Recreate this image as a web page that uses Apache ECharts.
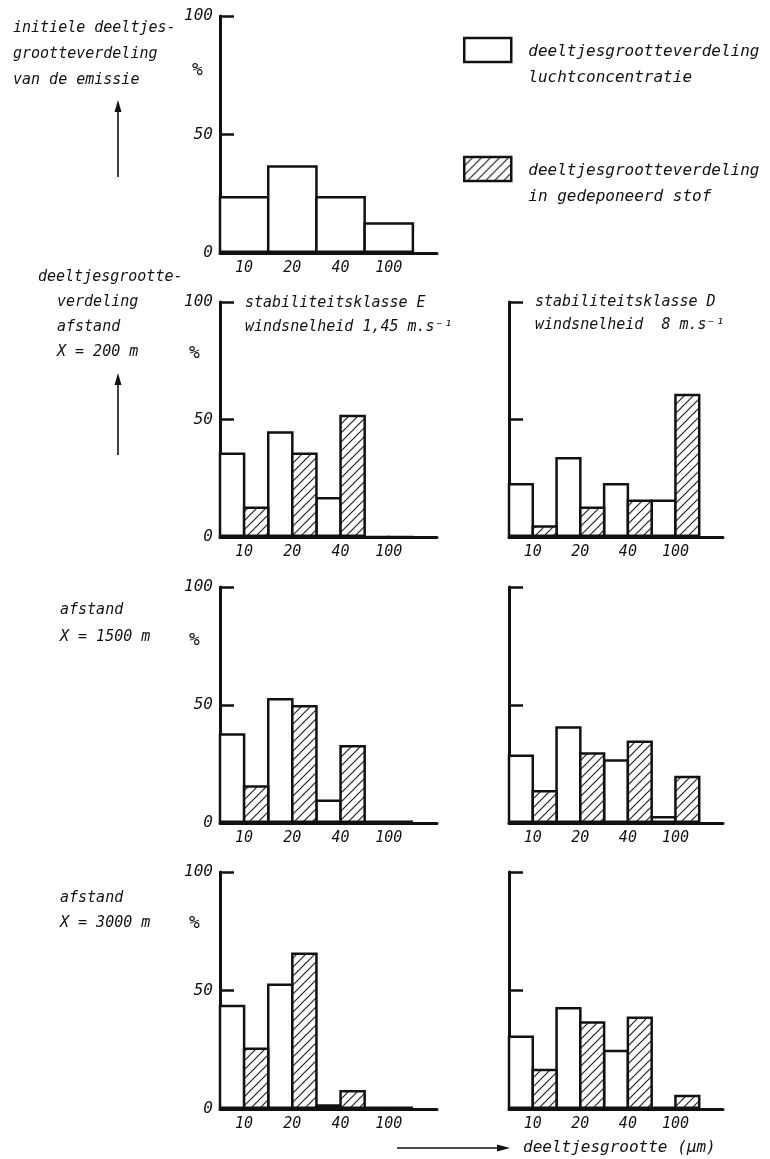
<!DOCTYPE html>
<html><head><meta charset="utf-8">
<script src="https://cdn.jsdelivr.net/npm/echarts@6/dist/echarts.min.js"></script>
<style>html,body{margin:0;padding:0;background:#fff}#c{width:770px;height:1159px}</style>
</head><body><div id="c"></div>
<script>
// ---- data (percent per particle-size class) ----
const sizeLabels = ['10', '20', '40', '100'];
const initialEmission = [24, 37, 24, 13];
const air200E = [36, 45, 17, 0];
const dep200E = [13, 36, 52, 0];
const air200D = [23, 34, 23, 16];
const dep200D = [5, 13, 16, 61];
const air1500E = [38, 53, 10, 1];
const dep1500E = [16, 50, 33, 1];
const air1500D = [29, 41, 27, 3];
const dep1500D = [14, 30, 35, 20];
const air3000E = [44, 53, 2, 1];
const dep3000E = [26, 66, 8, 1];
const air3000D = [31, 43, 25, 1];
const dep3000D = [17, 37, 39, 6];
const yTicks = [0, 50, 100];
const seriesNames = ['luchtconcentratie', 'gedeponeerd stof'];
const legendLines = {
  'luchtconcentratie': ['deeltjesgrootteverdeling', 'luchtconcentratie'],
  'gedeponeerd stof': ['deeltjesgrootteverdeling', 'in gedeponeerd stof']
};

// ---- styling / layout ----
const FONT = 'DejaVu Sans Mono';
const INK = '#111';
const BW = 2.5;
function makeHatch() {
  const n = 9;
  const c = document.createElement('canvas'); c.width = n; c.height = n;
  const g = c.getContext('2d');
  g.fillStyle = '#fff'; g.fillRect(0, 0, n, n);
  g.strokeStyle = '#222'; g.lineWidth = 1.2;
  g.beginPath();
  g.moveTo(0, n); g.lineTo(n, 0);
  g.moveTo(-1, 1); g.lineTo(1, -1);
  g.moveTo(n - 1, n + 1); g.lineTo(n + 1, n - 1);
  g.stroke();
  return c;
}
const hatchFill = { image: makeHatch(), repeat: 'repeat' };

const rowTop = [16, 302, 587, 872];
const rowBottom = [253, 537, 823, 1109];
const colLeft = [220, 509];
const colWidth = [217, 214];
const xMax = 4.5;

const panels = [
  { air: initialEmission, dep: null, col: 0, row: 0 },
  { air: air200E, dep: dep200E, col: 0, row: 1 },
  { air: air200D, dep: dep200D, col: 1, row: 1 },
  { air: air1500E, dep: dep1500E, col: 0, row: 2 },
  { air: air1500D, dep: dep1500D, col: 1, row: 2 },
  { air: air3000E, dep: dep3000E, col: 0, row: 3 },
  { air: air3000D, dep: dep3000D, col: 1, row: 3 }
];

const textBase = { fontFamily: FONT, fontStyle: 'italic', fontWeight: 'normal', color: INK };

const grid = [], xAxis = [], yAxis = [], series = [];
panels.forEach((p, i) => {
  grid.push({
    left: colLeft[p.col], width: colWidth[p.col],
    top: rowTop[p.row], height: rowBottom[p.row] - rowTop[p.row],
    containLabel: false
  });
  xAxis.push({
    gridIndex: i, type: 'value', min: 0, max: xMax, interval: 0.5,
    axisLine: { show: true, onZero: false, lineStyle: { color: INK, width: 3 } },
    axisTick: { show: false }, splitLine: { show: false },
    axisLabel: Object.assign({
      fontSize: 15, margin: 8, showMinLabel: true, showMaxLabel: true,
      formatter: v => { const k = v - 0.5; return Number.isInteger(k) && sizeLabels[k] ? sizeLabels[k] : ''; }
    }, textBase)
  });
  yAxis.push({
    gridIndex: i, type: 'value', min: yTicks[0], max: yTicks[2], interval: yTicks[1] - yTicks[0],
    axisLine: { show: true, lineStyle: { color: INK, width: 3 } },
    axisTick: { show: true, inside: true, length: 14, lineStyle: { color: INK, width: 2.5 } },
    splitLine: { show: false },
    axisLabel: Object.assign({ show: p.col === 0, fontSize: 16, margin: 7 }, textBase)
  });
  const band = colWidth[p.col] / xMax;
  const n = p.dep ? 2 : 1;
  const w = band / n + BW;                 // widen so neighbouring outlines share one line
  const gap = ((band / n) / w - 1) * 100;  // negative gap keeps the slot pitch
  const pts = arr => arr.map((v, k) => [k + 0.5, v]);
  series.push({
    type: 'bar', name: seriesNames[0], xAxisIndex: i, yAxisIndex: i,
    data: pts(p.air), barWidth: w, barGap: gap + '%',
    itemStyle: { color: '#fff', borderColor: INK, borderWidth: BW }, silent: true
  });
  if (p.dep) {
    series.push({
      type: 'bar', name: seriesNames[1], xAxisIndex: i, yAxisIndex: i,
      data: pts(p.dep), barWidth: w, barGap: gap + '%',
      itemStyle: { color: hatchFill, borderColor: INK, borderWidth: BW }, silent: true
    });
  }
});

function t(text, left, top, size, lh) {
  return { text, left, top, padding: 0,
    textStyle: Object.assign({ fontSize: size, lineHeight: lh }, textBase) };
}
const title = [
  t('initiele deeltjes-\ngrootteverdeling\nvan de emissie', 13, 15, 15, 26),
  t('deeltjesgrootte-', 38, 265, 15, 25),
  t('verdeling\nafstand\nX = 200 m', 57, 290, 15, 25),
  t('afstand\nX = 1500 m', 60, 597, 15, 27),
  t('afstand\nX = 3000 m', 60, 886, 15, 25),
  t('%', 192, 58, 18, 24),
  t('%', 189, 341, 18, 24),
  t('%', 189, 628, 18, 24),
  t('%', 189, 911, 18, 24),
  t('stabiliteitsklasse E\nwindsnelheid 1,45 m.s\u207B\u00B9', 245, 291, 15, 24),
  t('stabiliteitsklasse D\nwindsnelheid  8 m.s\u207B\u00B9', 535, 291, 15, 23),
  t('deeltjesgrootte (\u00B5m)', 523, 1136, 16, 24)
];

function arrowV(x, yTip, yEnd) {
  return [
    { type: 'line', shape: { x1: x, y1: yTip + 8, x2: x, y2: yEnd }, style: { stroke: INK, lineWidth: 1.6 } },
    { type: 'polygon', shape: { points: [[x, yTip], [x - 3.5, yTip + 12], [x + 3.5, yTip + 12]] }, style: { fill: INK } }
  ];
}
function arrowH(x0, xTip, y) {
  return [
    { type: 'line', shape: { x1: x0, y1: y, x2: xTip - 8, y2: y }, style: { stroke: INK, lineWidth: 1.6 } },
    { type: 'polygon', shape: { points: [[xTip, y], [xTip - 13, y - 3.5], [xTip - 13, y + 3.5]] }, style: { fill: INK } }
  ];
}
const graphic = [].concat(arrowV(118, 100, 177), arrowV(118, 373, 455), arrowH(397, 510, 1148));

const chart = echarts.init(document.getElementById('c'), null, { renderer: 'canvas' });
chart.setOption({
  animation: false,
  backgroundColor: '#fff',
  title, grid, xAxis, yAxis, series, graphic,
  legend: {
    data: seriesNames, orient: 'vertical', left: 463, top: 22, padding: 0,
    icon: 'rect', itemWidth: 47, itemHeight: 24, itemGap: 55, selectedMode: false,
    itemStyle: { borderColor: INK, borderWidth: BW },
    formatter: n => '{s| }\n{a|' + legendLines[n][0] + '}\n{a|' + legendLines[n][1] + '}',
    textStyle: Object.assign({
      fontSize: 16, padding: [0, 0, 0, 12],
      rich: {
        s: { fontSize: 4, lineHeight: 30 },
        a: Object.assign({ fontSize: 16, lineHeight: 26 }, textBase)
      }
    }, textBase)
  }
});
</script>
</body></html>
